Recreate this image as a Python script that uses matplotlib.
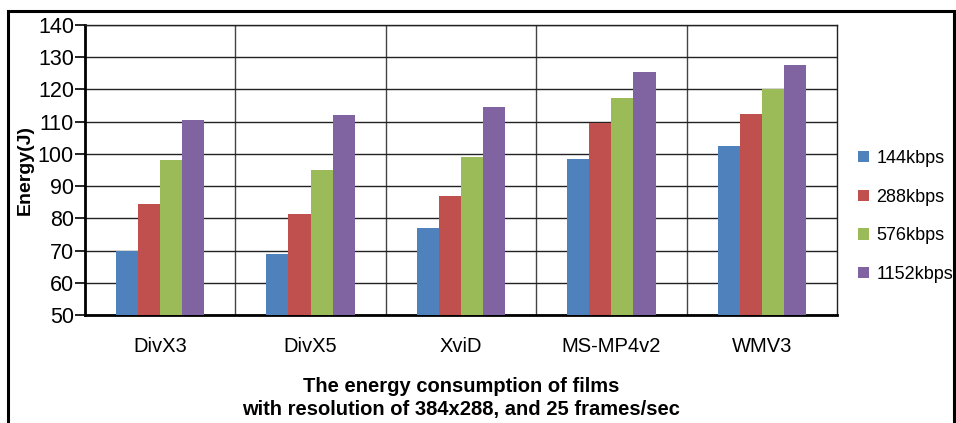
import matplotlib.pyplot as plt
import numpy as np
from matplotlib.patches import Rectangle

plt.rcParams['font.family'] = ['Liberation Sans', 'DejaVu Sans']

codecs = ['DivX3', 'DivX5', 'XviD', 'MS-MP4v2', 'WMV3']
rates = ['144kbps', '288kbps', '576kbps', '1152kbps']
e144 = [70, 69, 77, 98.5, 102.5]
e288 = [84.5, 81.5, 87, 109.5, 112.5]
e576 = [98, 95, 99, 117.5, 120]
e1152 = [110.5, 112, 114.5, 125.5, 127.5]
colors = ['#4F81BD', '#C0504D', '#9BBB59', '#8064A2']

fig = plt.figure(figsize=(9.56, 4.23), dpi=100)
ax = fig.add_axes([0.0889, 0.2553, 0.7866, 0.6856])

x = np.arange(len(codecs))
w = 0.147
series = [e144, e288, e576, e1152]
for i, vals in enumerate(series):
    ax.bar(x + (i - 1.5) * w, np.array(vals) - 50, bottom=50, width=w,
           color=colors[i], label=rates[i], zorder=3)

ax.set_xlim(-0.5, len(codecs) - 0.5)
ax.set_ylim(50, 140)
ax.set_yticks(range(50, 141, 10))
ax.set_xticks(x)
ax.set_xticklabels(codecs, fontsize=14.5)
ax.tick_params(axis='x', length=0, pad=16)
ax.tick_params(axis='y', labelsize=15.5, length=7, width=1.2, pad=1)

# horizontal grid + category separators
ax.grid(axis='y', color='#222222', linewidth=1.0, zorder=0)
for s in np.arange(0.5, len(codecs) - 0.5, 1):
    ax.axvline(s, color='#444444', linewidth=1.0, zorder=0)

for side in ['left', 'bottom']:
    ax.spines[side].set_linewidth(2)
for side in ['top', 'right']:
    ax.spines[side].set_linewidth(1.0)
    ax.spines[side].set_color('#222222')

ax.set_ylabel('Energy(J)', fontsize=14, fontweight='bold', labelpad=3)
ax.set_xlabel('The energy consumption of films\nwith resolution of 384x288, and 25 frames/sec',
              fontsize=14.5, fontweight='bold', labelpad=15, linespacing=1.25)

fig.legend(loc='center left', bbox_to_anchor=(0.881, 0.488), frameon=False,
           fontsize=13, handlelength=0.6, handleheight=0.6,
           labelspacing=1.2, handletextpad=0.4)

# outer frame, bottom edge falls outside the image
fig.patches.append(Rectangle((0.0084, -0.05), 0.9896, 1.024, transform=fig.transFigure,
                             fill=False, edgecolor='black', linewidth=2.2))

fig.savefig('out.png', dpi=100)
